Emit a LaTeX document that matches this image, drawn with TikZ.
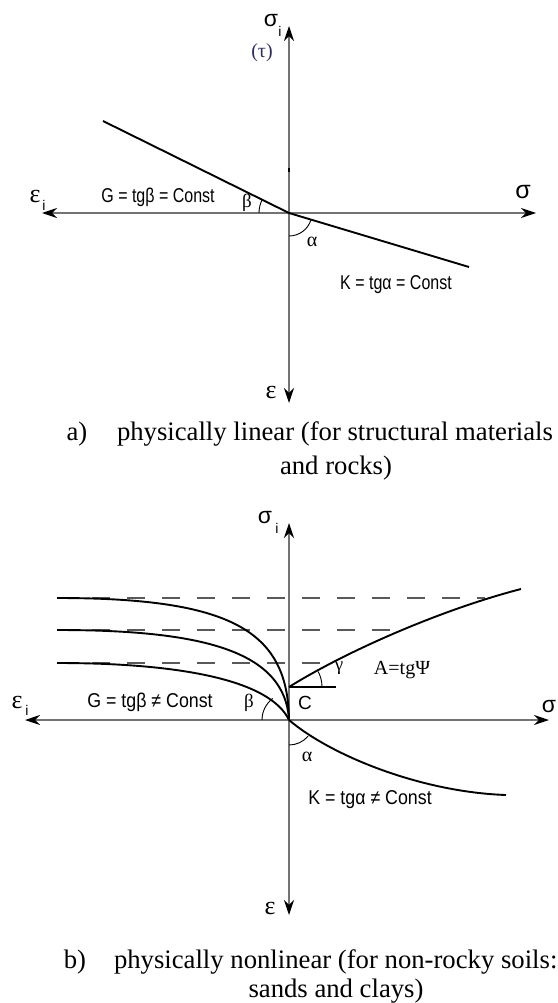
\documentclass[tikz,border=0pt]{standalone}
\usepackage{fontspec}
\usepackage{graphicx}
\setmainfont{Liberation Serif}
\newfontfamily\arialf{Liberation Sans}
\newfontfamily\narrowA[FakeStretch=0.80]{Liberation Sans}
\newfontfamily\narrowB[FakeStretch=0.89]{Liberation Sans}
\usetikzlibrary{arrows.meta}
\definecolor{axisgray}{RGB}{115,115,115}
\definecolor{tauc}{RGB}{45,45,95}
\tikzset{
  axis/.style={draw=axisgray, line width=1.3pt, >={Stealth[length=15pt,width=10pt,color=black]}, <->},
  curve/.style={draw=black, line width=1.9pt},
  anglearc/.style={draw=black, line width=0.9pt},
  dashl/.style={draw=black!65, line width=1.2pt, dash pattern=on 18pt off 17pt},
  lbl/.style={inner sep=0pt, outer sep=0pt},
  capt/.style={inner sep=0pt, outer sep=0pt, font=\fontsize{26.7}{32}\selectfont},
}
\begin{document}
\begin{tikzpicture}[x=1pt,y=-1pt]
\useasboundingbox (0,0) rectangle (557,1003);
% ---------------- diagram a ----------------
\coordinate (Oa) at (289,213);
\coordinate (Na) at (289,26);
\coordinate (Sa) at (289,403);
\coordinate (Wa) at (42,213);
\coordinate (Ea) at (536,213);
\coordinate (La) at (103,121);
\coordinate (Ra) at (469,267);
\coordinate (Ta1) at (289,168);
\coordinate (Ta2) at (289,172);
\draw[axis] (Na) -- (Sa);
\draw[axis] (Wa) -- (Ea);
\draw[black, line width=1.6pt] (Ta1) -- (Ta2);
\draw[curve] (La) -- (Oa) -- (Ra);
\draw[anglearc] (Oa) ++(180:30) arc[start angle=180, end angle=206.3, radius=30];
\draw[anglearc] (Oa) ++(90:23) arc[start angle=90, end angle=16.7, radius=23];
\node[lbl, font=\arialf\fontsize{23}{23}\selectfont] (sigA) at (271,21) {σ};
\node[lbl, font=\arialf\fontsize{14}{14}\selectfont] (sigAi) at (280,31) {i};
\node[lbl, text=tauc, font=\fontsize{20}{20}\selectfont] (tauA) at (262,53) {(τ)};
\node[lbl, font=\fontsize{26}{26}\selectfont] (epsAi) at (35,197) {ε};
\node[lbl, font=\arialf\fontsize{14}{14}\selectfont] (epsAii) at (44,205) {i};
\node[lbl, font=\arialf\fontsize{25}{25}\selectfont] (sigAr) at (523,192) {σ};
\node[lbl, font=\fontsize{26}{26}\selectfont] (epsAb) at (271,392) {ε};
\node[lbl, font=\narrowA\fontsize{20}{20}\selectfont] (GA) at (158,197) {G = tgβ = Const};
\node[lbl, font=\fontsize{19}{19}\selectfont] (betaA) at (247,203) {β};
\node[lbl, font=\fontsize{20}{20}\selectfont] (alphaA) at (312,242) {α};
\node[lbl, font=\narrowA\fontsize{20}{20}\selectfont] (KA) at (396,285) {K = tgα = Const};
% caption a
\node[capt] (capAl) at (77,434) {a)};
\node[capt, anchor=west] (capA1) at (117,434) {physically linear (for structural materials};
\node[capt] (capA2) at (336,468) {and rocks)};
% ---------------- diagram b ----------------
\coordinate (Ob) at (289,720);
\coordinate (Nb) at (289,523);
\coordinate (Sb) at (289,915);
\coordinate (Wb) at (25,720);
\coordinate (Eb) at (549,720);
\coordinate (Cb) at (289,687);
\coordinate (Hb) at (336,687);
\coordinate (Ab) at (521,589);
\coordinate (Kb) at (506,795);
\coordinate (P1) at (57,598);
\coordinate (P2) at (57,630);
\coordinate (P3) at (57,663);
\coordinate (D1) at (485,598);
\coordinate (D2) at (400,630);
\coordinate (D3) at (333,663);
\draw[dashl] (P1) -- (D1);
\draw[dashl] (P2) -- (D2);
\draw[dashl] (P3) -- (D3);
\draw[axis] (Nb) -- (Sb);
\draw[axis] (Wb) -- (Eb);
\draw[curve] (P1) .. controls (230,598) and (288,630) .. (Ob);
\draw[curve] (P2) .. controls (200,630) and (285,650) .. (Ob);
\draw[curve] (P3) .. controls (180,663) and (270,680) .. (Ob);
\draw[curve] (Ob) .. controls (330,755) and (420,792) .. (Kb);
\draw[curve] (Cb) .. controls (345,652) and (440,610) .. (Ab);
\draw[anglearc, line width=1.3pt] (Cb) -- (Hb);
\draw[anglearc] (Cb) ++(0:33) arc[start angle=0, end angle=-28, radius=33];
\draw[anglearc] (Ob) ++(180:27) arc[start angle=180, end angle=233, radius=27];
\draw[anglearc] (Ob) ++(90:25) arc[start angle=90, end angle=40, radius=25];
\node[lbl, font=\arialf\fontsize{23}{23}\selectfont] (sigB) at (265,518) {σ};
\node[lbl, font=\arialf\fontsize{14}{14}\selectfont] (sigBi) at (277,528) {i};
\node[lbl, font=\fontsize{26}{26}\selectfont] (epsBi) at (17,702) {ε};
\node[lbl, font=\arialf\fontsize{14}{14}\selectfont] (epsBii) at (27,710) {i};
\node[lbl, font=\arialf\fontsize{23}{23}\selectfont] (sigBr) at (549,707) {σ};
\node[lbl, font=\fontsize{26}{26}\selectfont] (epsBb) at (270,908) {ε};
\node[lbl, font=\narrowB\fontsize{20}{20}\selectfont] (GB) at (150,702) {G = tgβ ≠ Const};
\node[lbl, font=\fontsize{19}{19}\selectfont] (betaB) at (249,703) {β};
\node[lbl, font=\arialf\fontsize{19}{19}\selectfont] (CB) at (305,703) {C};
\node[lbl, font=\fontsize{19}{19}\selectfont] (gamB) at (339,668) {γ};
\node[lbl, font=\fontsize{20}{20}\selectfont] (AB) at (402,670) {A=tgΨ};
\node[lbl, font=\fontsize{20}{20}\selectfont] (alphaB) at (307,757) {α};
\node[lbl, font=\narrowB\fontsize{20}{20}\selectfont] (KB) at (370,800) {K = tgα ≠ Const};
% caption b
\node[capt] (capBl) at (75,962) {b)};
\node[capt, anchor=west] (capB1) at (114,962) {physically nonlinear (for non-rocky soils:};
\node[capt] (capB2) at (336,991) {sands and clays)};
\end{tikzpicture}
\end{document}
